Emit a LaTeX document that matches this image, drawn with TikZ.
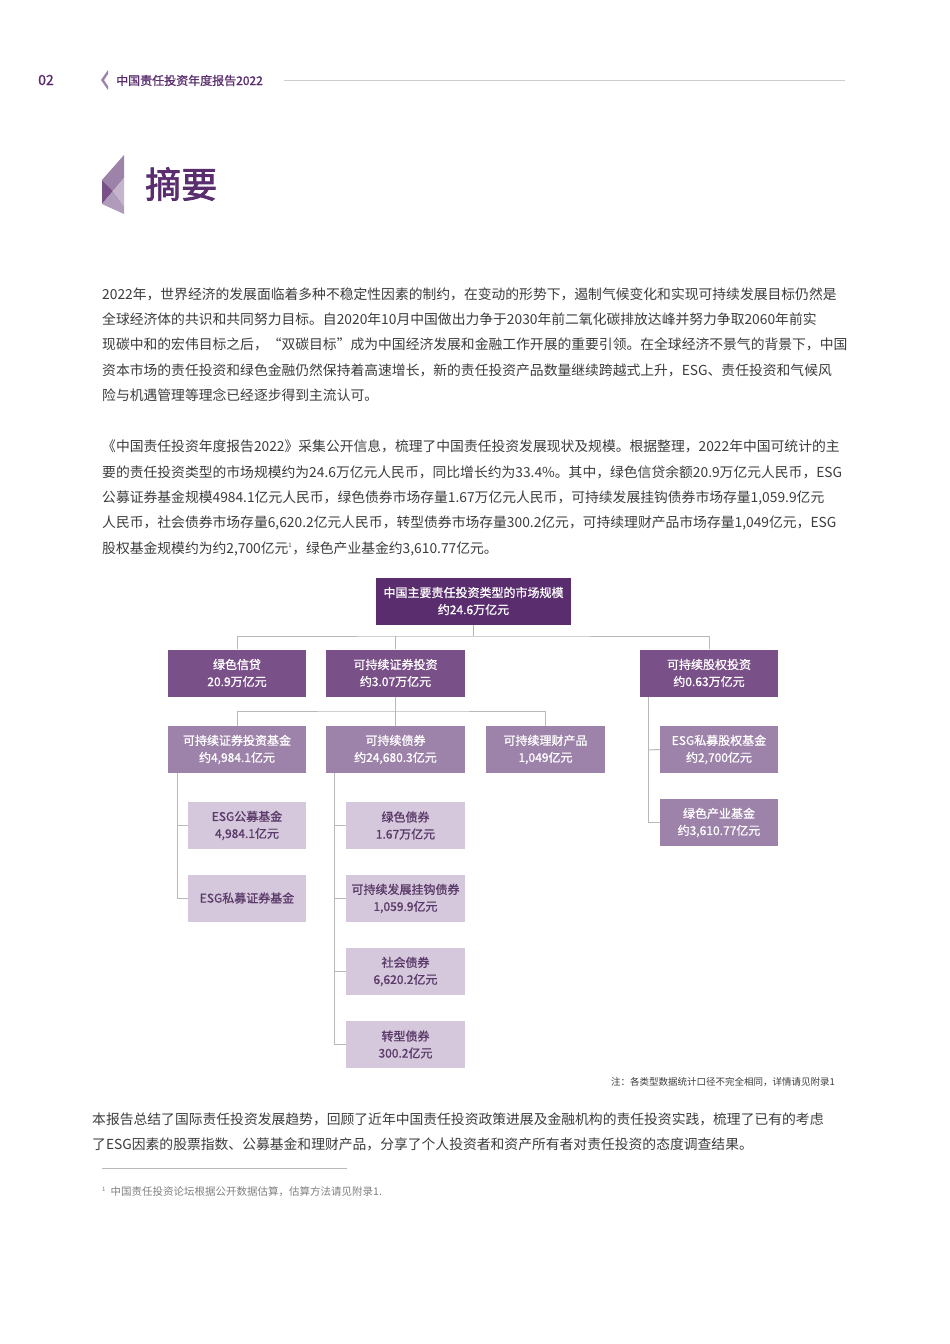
\documentclass[tikz,border=0pt]{standalone}
\usepackage{fontspec}
\setmainfont{Noto Sans CJK SC}
\newfontfamily\medf[FakeBold=1]{Noto Sans CJK SC}
\newfontfamily\boldf[FakeBold=2]{Noto Sans CJK SC}
\definecolor{pdark}{HTML}{5A2D6E}
\definecolor{pmid}{HTML}{7A5088}
\definecolor{plt}{HTML}{9D82AA}
\definecolor{ppale}{HTML}{D5C7DC}
\definecolor{ptxt}{HTML}{5A3A68}
\definecolor{body}{HTML}{3C3C3C}
\definecolor{lgrey}{HTML}{B8B8B8}
\tikzset{
 bx/.style={minimum height=47pt,inner sep=0pt,align=center,font=\medf\fontsize{12}{17}\selectfont},
 b1/.style={bx,fill=pdark,text=white},
 b2/.style={bx,fill=pmid,text=white},
 b3/.style={bx,fill=plt,text=white},
 b4/.style={bx,fill=ppale,text=ptxt},
 cn/.style={draw=lgrey,line width=1pt},
 ln/.style={anchor=base west,inner sep=0pt,text=body,font=\fontsize{13.8}{16}\selectfont}
}
\begin{document}
\begin{tikzpicture}[x=1pt,y=-1pt]
\useasboundingbox[fill=white] (0,0) rectangle (950,1344);
% header
\node[anchor=base west,inner sep=0pt,text=pdark,font=\medf\fontsize{14}{16}\selectfont] (pg) at (38,85) {02};
\fill[plt] (108,70)--(101,80)--(108,90)--(108,86)--(104,80)--(108,74)--cycle;
\node[anchor=base west,inner sep=0pt,text=pdark,font=\medf\fontsize{12}{14}\selectfont] (hd) at (116,85) {中国责任投资年度报告2022};
\draw[lgrey!70,line width=0.8pt] (284,80)--(845,80);
% title chevron
\fill[plt] (124,155)--(102,180)--(113,191)--(124,178)--cycle;
\fill[pmid] (102,180)--(113,191)--(102,204)--cycle;
\fill[plt!80] (102,204)--(113,191)--(124,206)--(124,214)--cycle;
\fill[plt!60] (113,191)--(124,178)--(124,206)--cycle;
\node[anchor=west,inner sep=0pt,text=pdark,font=\boldf\fontsize{36}{40}\selectfont] (tt) at (145,184) {摘要};
% paragraph 1
\node[ln] (p1) at (102,299) {2022年，世界经济的发展面临着多种不稳定性因素的制约，在变动的形势下，遏制气候变化和实现可持续发展目标仍然是};
\node[ln] (p2) at (102,324) {全球经济体的共识和共同努力目标。自2020年10月中国做出力争于2030年前二氧化碳排放达峰并努力争取2060年前实};
\node[ln] (p3) at (102,349) {现碳中和的宏伟目标之后，“双碳目标”成为中国经济发展和金融工作开展的重要引领。在全球经济不景气的背景下，中国};
\node[ln] (p4) at (102,375) {资本市场的责任投资和绿色金融仍然保持着高速增长，新的责任投资产品数量继续跨越式上升，ESG、责任投资和气候风};
\node[ln] (p5) at (102,400) {险与机遇管理等理念已经逐步得到主流认可。};
% paragraph 2
\node[ln] (q1) at (102,451) {《中国责任投资年度报告2022》采集公开信息，梳理了中国责任投资发展现状及规模。根据整理，2022年中国可统计的主};
\node[ln] (q2) at (102,477) {要的责任投资类型的市场规模约为24.6万亿元人民币，同比增长约为33.4\%。其中，绿色信贷余额20.9万亿元人民币，ESG};
\node[ln] (q3) at (102,502) {公募证券基金规模4984.1亿元人民币，绿色债券市场存量1.67万亿元人民币，可持续发展挂钩债券市场存量1,059.9亿元};
\node[ln] (q4) at (102,527) {人民币，社会债券市场存量6,620.2亿元人民币，转型债券市场存量300.2亿元，可持续理财产品市场存量1,049亿元，ESG};
\node[ln] (q5) at (102,553) {股权基金规模约为约2,700亿元\textsuperscript{\fontsize{6}{6}\selectfont 1}，绿色产业基金约3,610.77亿元。};
% chart
\node[b1,minimum width=195pt] (top) at (473.5,601) {中国主要责任投资类型的市场规模\\约24.6万亿元};
\node[b2,minimum width=138pt] (a1) at (237,673) {绿色信贷\\20.9万亿元};
\node[b2,minimum width=139pt] (a2) at (395.5,673) {可持续证券投资\\约3.07万亿元};
\node[b2,minimum width=138pt] (a3) at (709,673) {可持续股权投资\\约0.63万亿元};
\node[b3,minimum width=138pt] (c1) at (237,749.5) {可持续证券投资基金\\约4,984.1亿元};
\node[b3,minimum width=139pt] (c2) at (395.5,749.5) {可持续债券\\约24,680.3亿元};
\node[b3,minimum width=119pt] (c3) at (545.5,749.5) {可持续理财产品\\1,049亿元};
\node[b3,minimum width=118pt] (e1) at (719,749.5) {ESG私募股权基金\\约2,700亿元};
\node[b3,minimum width=118pt] (e2) at (719,822.5) {绿色产业基金\\约3,610.77亿元};
\node[b4,minimum width=118pt] (f1) at (247,825.5) {ESG公募基金\\4,984.1亿元};
\node[b4,minimum width=118pt] (f2) at (247,898) {ESG私募证券基金};
\node[b4,minimum width=119pt] (g1) at (405.5,825.5) {绿色债券\\1.67万亿元};
\node[b4,minimum width=119pt] (g2) at (405.5,898.5) {可持续发展挂钩债券\\1,059.9亿元};
\node[b4,minimum width=119pt] (g3) at (405.5,971.5) {社会债券\\6,620.2亿元};
\node[b4,minimum width=119pt] (g4) at (405.5,1044.5) {转型债券\\300.2亿元};
\coordinate (j1) at (473.5,636);
\draw[cn] (top.south)--(j1);
\draw[cn] (a1.north)|-(j1)-|(a3.north);
\draw[cn] (a2.north)--(a2.north|-j1);
\coordinate (j2) at (395.5,711);
\draw[cn] (a2.south)--(j2);
\draw[cn] (c1.north)|-(j2)-|(c3.north);
\draw[cn] (c2.north)--(j2);
\draw[cn] (a3.south-|648,0)|-(e2.west);
\draw[cn] (648,750)--(e1.west);
\draw[cn] (c1.south-|177,0)|-(f2.west);
\draw[cn] (177,825.5)--(f1.west);
\draw[cn] (c2.south-|334,0)|-(g4.west);
\draw[cn] (334,825.5)--(g1.west);
\draw[cn] (334,898.5)--(g2.west);
\draw[cn] (334,971.5)--(g3.west);
\node[anchor=base east,inner sep=0pt,text=body,font=\fontsize{9.5}{11}\selectfont] (note) at (835,1085) {注：各类型数据统计口径不完全相同，详情请见附录1};
% paragraph 3
\node[ln] (r1) at (92,1124) {本报告总结了国际责任投资发展趋势，回顾了近年中国责任投资政策进展及金融机构的责任投资实践，梳理了已有的考虑};
\node[ln] (r2) at (92,1149) {了ESG因素的股票指数、公募基金和理财产品，分享了个人投资者和资产所有者对责任投资的态度调查结果。};
\draw[lgrey,line width=0.6pt] (102,1168)--(347,1168);
\node[anchor=base west,inner sep=0pt,text=gray,font=\fontsize{10.5}{12}\selectfont] (fn) at (102,1195) {\textsuperscript{\fontsize{6}{6}\selectfont 1}\ \ 中国责任投资论坛根据公开数据估算，估算方法请见附录1.};
\end{tikzpicture}
\end{document}
